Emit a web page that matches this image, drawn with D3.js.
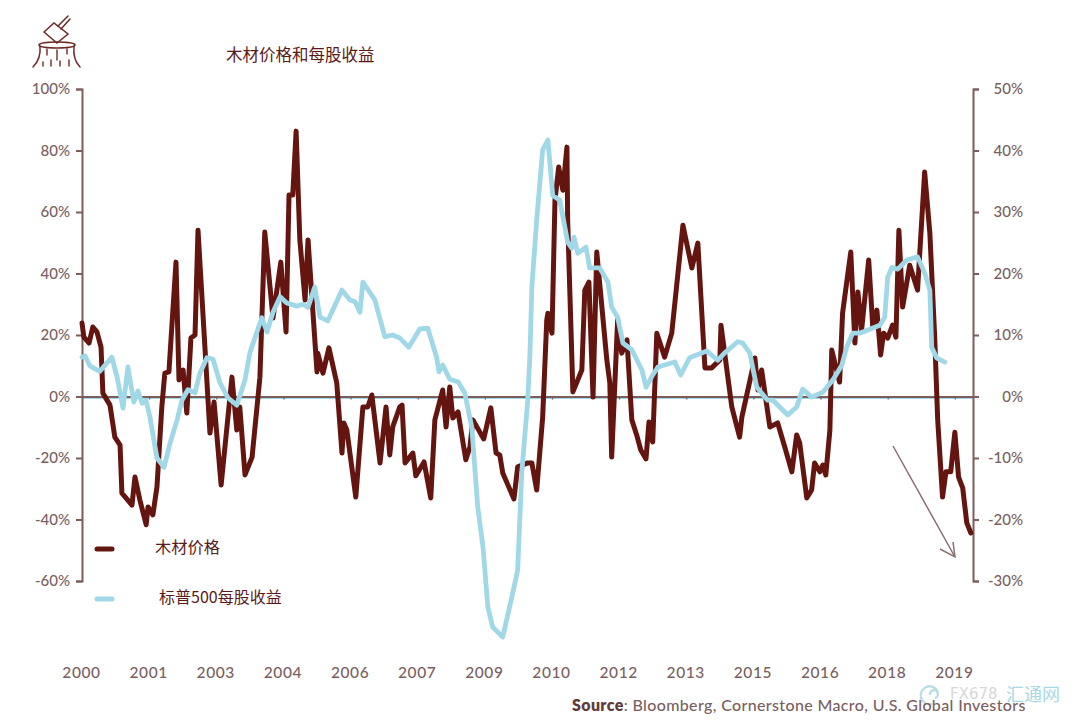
<!DOCTYPE html>
<html><head><meta charset="utf-8">
<script src="https://cdn.jsdelivr.net/npm/d3@7"></script>
<style>html,body{margin:0;padding:0;background:#fff}svg{display:block}</style>
</head><body><svg id="c" width="1073" height="722"></svg>
<script>
const titleText = "木材价格和每股收益";
const woodLabel = "木材价格";
const epsLabel = "标普500每股收益";
const sourceBold = "Source";
const sourceRest = ": Bloomberg, Cornerstone Macro, U.S. Global Investors";
const xTickMonths = [0,18,36,54,72,90,108,126,144,162,180,198,216,234];
const xTickLabels = ["2000","2001","2003","2004","2006","2007","2009","2010","2012","2013","2015","2016","2018","2019"];
const leftTicks = [100,80,60,40,20,0,-20,-40,-60];
const rightTicks = [50,40,30,20,10,0,-10,-20,-30];

// months since Jan 2000, lumber price YoY %
const woodMonths = [0,.5,1.9,2.9,4,5.1,5.6,7.5,8.8,10.2,10.7,13.4,14.2,15.5,17.2,17.7,19,20.1,21.4,22.2,23.3,25.2,26,27.1,28.1,29.2,30.3,31.1,33,34.3,35.4,37.3,40.2,41.5,42.3,43.7,45.6,47.7,49,51.2,53.3,54.7,55.5,56.5,57.4,58.4,59.8,60.6,63,63.2,64.6,66.2,68.3,69.7,70.2,71,73.4,75.3,76.6,77.7,79.9,81.5,82.5,83.3,85.2,85.8,86.6,88.7,89.5,91.7,93.5,94.6,96.7,97.6,98.6,99.4,100.8,102.9,104,104.8,107.7,109.6,111,112,112.8,115.8,116.8,119.5,120.6,121.9,123.5,124.6,124.9,126,126.8,127.8,128.9,130,130.2,131.6,134,134.8,135.9,137,138,140.7,141.5,142,143.6,144.7,146.1,147.4,148.7,149.8,151.2,152,153,154.1,156.2,158.1,161.1,163.5,165.1,167,168.8,171,171.3,174.2,176.3,176.9,180.4,181.2,182.2,184.4,186.5,188.4,190.3,191.6,192.4,194.3,195.6,196.4,197.8,198.6,199.4,200.5,201,203.1,203.9,206.1,207.2,208,209,210.9,212,213.1,214.1,214.9,216,217.3,218.2,219,220,221.9,224,225.9,227.3,228.6,229.4,230.7,231.6,232.9,234,235,236.1,237.2,238.3];
const woodValues = [23.9,19.3,17.4,22.6,21,16.1,1.1,-2.8,-13.2,-15.8,-31.4,-35.3,-26.2,-33.6,-41.7,-35.9,-38.5,-29.4,-3.4,7.6,8,43.7,5.4,8.6,-5.4,19,20,54.1,15.1,-11.9,-1.8,-28.8,6.3,-10.9,-3.4,-25.5,-19.7,6.3,53.5,25.5,43.7,21,65.5,65.5,86.3,50.9,31.4,50.9,8,14.1,7.6,15.8,4.4,-18.4,-8.6,-10.9,-32.7,-3.4,-3.4,.5,-21.6,-3.4,-19,-9.9,-3.4,-2.8,-21.6,-18.4,-25.8,-21.3,-33,-7.6,2.1,-9.9,3.1,-7,-5,-20.6,-16.4,-7.6,-13.8,-3.7,-18.4,-19,-24.9,-33.3,-22.9,-21.6,-21.6,-30.4,-6.7,24.9,27.1,20.6,63.9,74.6,67.1,81.1,57.4,1.5,8.6,34.6,37.2,-.2,47,11.9,4.4,-19.7,24.9,14.1,18.4,-7.6,-12.5,-17.4,-20.3,-8.3,-14.8,20.6,12.8,20.6,55.7,41.8,49.9,9.3,9.3,11.9,23.2,-3.4,-13.2,-6.7,12.5,2.1,8.6,-9.9,-8.6,-16.4,-24.5,-12.5,-15.1,-33,-30.4,-21.6,-24.5,-22.3,-25.5,-10.9,15.1,4.7,27.1,47,17.4,34,21.6,44.4,22.6,28.1,13.5,20.6,19,23.2,19.3,54.1,29.1,42.7,34.6,73,53.1,19.3,-7.6,-32.7,-24.5,-24.5,-11.6,-26.2,-29.7,-41.1,-44.4];

// months since Jan 2000, S&P 500 EPS YoY %
const epsMonths = [0,.8,2.1,3.5,4.8,8,9.4,11,12.3,13.9,15,16.1,17.2,18.2,20.1,22,23.6,25.5,26.8,28.4,30.3,31.6,33.5,35.1,37,39.1,41.5,43.7,45,48.2,49.6,51.2,53.1,54.9,57.6,59.2,60.6,62.4,63.8,65.9,69.7,71.8,73.2,74.5,75.3,78.5,81.2,83.3,85.2,87.6,90.6,92.7,95.1,95.7,96.7,98.6,100.8,102.6,104.5,106.1,107.5,108.8,110.1,112.8,115.5,116.8,117.9,119.5,120.1,120.6,121.9,123.5,124.9,126.2,128.1,130.2,131.3,131.9,132.9,135.1,136.1,138.8,141,142,143.6,145,147.4,150.1,151.2,153,154.4,158.9,160.5,162.9,167.5,170.4,172.3,175.8,177.1,179,180.9,183.8,185.2,189.2,191.6,193.2,195.6,198.6,201.3,203.7,205,206.6,208.5,213.9,215.2,216,217.1,218.7,221.1,224,225.9,227.3,227.8,229.1,231.3];
const epsValues = [6.4,6.6,5,4.5,4.1,6.4,3.2,-1.9,4.8,-.9,.9,-1.1,-.7,-3.3,-10,-11.5,-7.6,-3.8,-.6,1.1,.6,3.8,6.3,6.1,2.2,-.2,-1.4,2.7,7.1,12.8,10.5,13.7,16.2,15.2,14.7,15,14.5,17.8,12.9,12.3,17.3,15.7,15.4,13.7,18.6,15.7,9.7,10,9.5,8,11,11.1,6.3,4,5.1,2.8,2.4,.6,-5,-18,-24.5,-34.2,-37.5,-39.1,-31.9,-28.2,-12.4,-.6,7.1,17.8,28.7,40.1,41.7,32.7,31.9,25.1,24.1,25.9,23.3,24.3,20.9,20.9,18.6,14.5,12.9,8.7,7.6,4.3,1.5,3.5,4.8,5.6,3.5,6.3,7.4,5.9,7.1,8.9,8.7,7.1,1.5,-.6,-.6,-3,-1.7,1.2,-.1,.7,2.7,5.1,8,10.3,10.3,11.6,12.9,19.4,21,20.7,22.2,22.7,20.1,17.3,8,6.3,5.6];

const BROWN = "#64150f", BLUE = "#a0d8e8", AXIS = "#7d5c5c", TEXT = "#7a5f5f";
const svg = d3.select("#c");
const x = d3.scaleLinear().domain([0,239]).range([82,973.5]);
const yL = d3.scaleLinear().domain([-60,100]).range([581,89]);
const yR = d3.scaleLinear().domain([-30,50]).range([581,89]);
const tickFont = "Lato, 'Open Sans', sans-serif";
const cjk = "'Noto Sans CJK SC', sans-serif";

svg.append("line").attr("x1",82).attr("x2",973).attr("y1",yL(0)+2).attr("y2",yL(0)+2)
  .attr("stroke",BLUE).attr("stroke-width",1);

function style(g){
  g.selectAll("path.domain").attr("stroke",AXIS).attr("stroke-width",2);
  g.selectAll(".tick line").attr("stroke",AXIS).attr("stroke-width",2);
  g.selectAll("text").attr("fill",TEXT).attr("font-family",tickFont).attr("font-size",15).attr("font-weight",500);
}
const gL = svg.append("g").attr("transform","translate(82,0)")
  .call(d3.axisLeft(yL).tickValues(leftTicks).tickSize(6).tickPadding(6).tickFormat(d=>d+"%"));
style(gL);
const gR = svg.append("g").attr("transform","translate(973,0)")
  .call(d3.axisRight(yR).tickValues(rightTicks).tickSize(6).tickFormat(d=>d+"%"));
style(gR);
gR.selectAll("text").attr("text-anchor","end").attr("x",50);

const gZ = svg.append("g").attr("transform",`translate(0,${yL(0)})`)
  .call(d3.axisBottom(x).tickValues(xTickMonths).tickSize(3).tickSizeOuter(0).tickFormat(""));
gZ.selectAll("path.domain").attr("stroke",AXIS).attr("stroke-width",2);
gZ.selectAll(".tick line").attr("stroke",AXIS).attr("stroke-width",1.2);

const gX = svg.append("g").attr("transform","translate(-1,664)")
  .call(d3.axisBottom(x).tickValues(xTickMonths).tickSize(0).tickPadding(3).tickFormat((d,i)=>xTickLabels[i]));
gX.select("path.domain").remove();
style(gX);
gX.selectAll("text").attr("font-size",15.5).attr("letter-spacing",0.6);

const woodLine = d3.line().x((d,i)=>x(woodMonths[i])).y(d=>yL(d)).curve(d3.curveLinear);
const epsLine = d3.line().x((d,i)=>x(epsMonths[i])).y(d=>yR(d)).curve(d3.curveLinear);
svg.append("path").datum(woodValues).attr("d",woodLine).attr("fill","none").attr("stroke",BROWN)
  .attr("stroke-width",5).attr("stroke-linejoin","round").attr("stroke-linecap","round");
svg.append("path").datum(epsValues).attr("d",epsLine).attr("fill","none").attr("stroke",BLUE)
  .attr("stroke-width",4.8).attr("stroke-linejoin","round").attr("stroke-linecap","round");

svg.append("text").attr("x",226).attr("y",61).text(titleText)
  .attr("font-family",cjk).attr("font-size",16.5).attr("fill","#5a1a1a");

svg.append("line").attr("x1",97).attr("x2",112).attr("y1",549).attr("y2",549)
  .attr("stroke",BROWN).attr("stroke-width",5).attr("stroke-linecap","round");
svg.append("line").attr("x1",97).attr("x2",112).attr("y1",599).attr("y2",599)
  .attr("stroke",BLUE).attr("stroke-width",5).attr("stroke-linecap","round");
svg.append("text").attr("x",155).attr("y",553).text(woodLabel)
  .attr("font-family",cjk).attr("font-size",16.3).attr("fill","#5a1a1a");
svg.append("text").attr("x",159).attr("y",603).text(epsLabel)
  .attr("font-family",cjk).attr("font-size",16).attr("fill","#5a1a1a");

const arrow = svg.append("g").attr("fill","none").attr("stroke","#8a7070").attr("stroke-width",1.5);
arrow.append("path").attr("d","M893,446L955,557M940,549L955,557L953,542");

const wm = svg.append("g");
wm.append("path").attr("d","M938,692A9,9 0 1 0 932,704M930,695a4,4 0 1 1 5,3").attr("fill","none")
  .attr("stroke","#bcdde6").attr("stroke-width",2.4);
wm.append("text").attr("x",950).attr("y",699).text("FX678").attr("font-family","'DejaVu Sans',sans-serif")
  .attr("font-size",15).attr("fill","#d8d8d8");
wm.append("text").attr("x",1006).attr("y",701).text("汇通网").attr("font-family",cjk)
  .attr("font-size",18).attr("fill","#a9d8e6");

const src = svg.append("text").attr("x",572).attr("y",711)
  .attr("font-family",tickFont).attr("font-size",16).attr("letter-spacing",0.36).attr("fill",TEXT);
src.append("tspan").attr("font-weight",800).attr("fill","#5f3b3b").text(sourceBold);
src.append("tspan").attr("font-weight",500).text(sourceRest);

const ic = svg.append("g").attr("fill","none").attr("stroke","#6e2a26").attr("stroke-width",1.5).attr("stroke-linecap","round");
ic.append("path").attr("d","M44,32L54,23L68,34L57,43Z");
ic.append("path").attr("d","M58,26L68,16M61,29L70,19");
ic.append("path").attr("d","M39,45C39,41 75,41 75,45C75,49 39,49 39,45Z");
ic.append("path").attr("d","M40,46C41,56 38,62 33,67M74,46C73,56 75,62 80,67");
ic.append("path").attr("d","M47,49V55M57,50V60M67,49V54M51,60V66M60,61V66M69,60V66M43,62V66").attr("stroke-width",1.4);
</script></body></html>
